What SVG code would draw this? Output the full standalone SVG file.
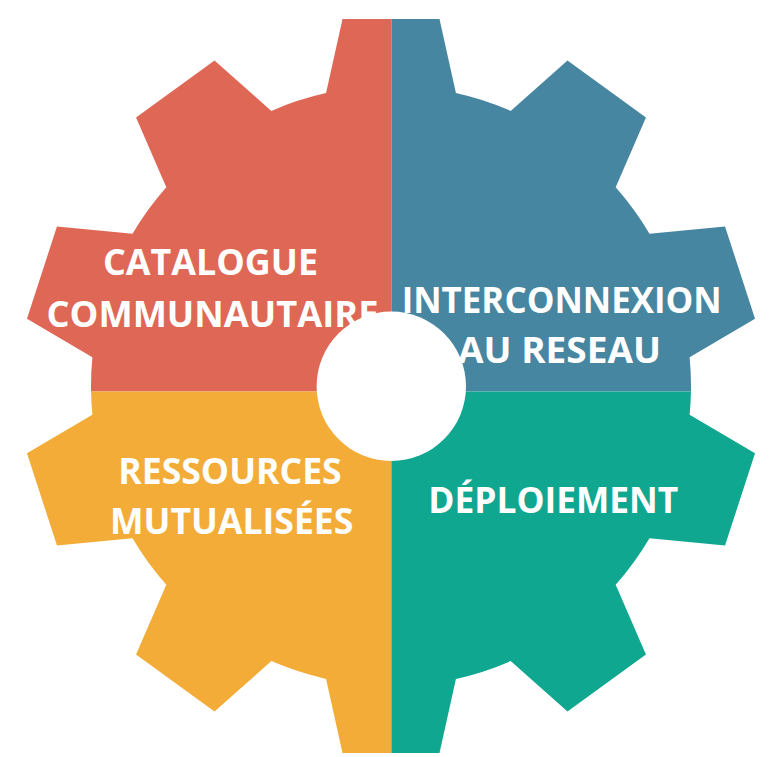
<svg xmlns="http://www.w3.org/2000/svg" xmlns:xlink="http://www.w3.org/1999/xlink" width="769" height="757" viewBox="0 0 769 757">
  <style>
    .lbl { font-family: "Open Sans", "Liberation Sans", sans-serif; font-weight: 700; font-size: 36px; fill: #FFFFFF; text-anchor: middle; }
  </style>
  <defs>
    <path id="gear" d="M326.07,93.11 L342.5,19 L439.5,19 L455.93,93.11 A300,300 0 0 1 510.63,110.88 L567.49,60.59 L645.95,117.6 L615.69,187.21 A300,300 0 0 1 649.49,233.74 L725.03,226.44 L755.03,318.71 L689.62,357.25 A300,300 0 0 1 689.62,414.75 L755.03,453.29 L725.03,545.56 L649.49,538.26 A300,300 0 0 1 615.69,584.79 L645.95,654.4 L567.49,711.41 L510.63,661.12 A300,300 0 0 1 455.93,678.89 L439.5,753 L342.5,753 L326.07,678.89 A300,300 0 0 1 271.37,661.12 L214.51,711.41 L136.05,654.4 L166.31,584.79 A300,300 0 0 1 132.51,538.26 L56.97,545.56 L26.97,453.29 L92.38,414.75 A300,300 0 0 1 92.38,357.25 L26.97,318.71 L56.97,226.44 L132.51,233.74 A300,300 0 0 1 166.31,187.21 L136.05,117.6 L214.51,60.59 L271.37,110.88 A300,300 0 0 1 326.07,93.11 Z"/>
    <clipPath id="cTL"><rect x="0" y="0" width="391.4" height="391.4"/></clipPath>
    <clipPath id="cTR"><rect x="391.4" y="0" width="377.6" height="391.4"/></clipPath>
    <clipPath id="cBL"><rect x="0" y="391.4" width="391.4" height="365.6"/></clipPath>
    <clipPath id="cBR"><rect x="391.4" y="391.4" width="377.6" height="365.6"/></clipPath>
  </defs>

  <g id="catalogue">
    <use xlink:href="#gear" fill="#DF6756" clip-path="url(#cTL)"/>
    <text class="lbl" x="210.5" y="275" textLength="215" lengthAdjust="spacingAndGlyphs">CATALOGUE</text>
    <text class="lbl" x="212.5" y="327" textLength="332" lengthAdjust="spacingAndGlyphs">COMMUNAUTAIRE</text>
  </g>

  <g id="interconnexion">
    <use xlink:href="#gear" fill="#4686A0" clip-path="url(#cTR)"/>
    <text class="lbl" x="561.7" y="312.5" textLength="320" lengthAdjust="spacingAndGlyphs">INTERCONNEXION</text>
    <text class="lbl" x="559.5" y="363.3" textLength="203" lengthAdjust="spacingAndGlyphs">AU RESEAU</text>
  </g>

  <g id="ressources">
    <use xlink:href="#gear" fill="#F3AC38" clip-path="url(#cBL)"/>
    <text class="lbl" x="230" y="484.3" textLength="223.4" lengthAdjust="spacingAndGlyphs">RESSOURCES</text>
    <text class="lbl" x="231.7" y="534.3" textLength="243.3" lengthAdjust="spacingAndGlyphs">MUTUALISÉES</text>
  </g>

  <g id="deploiement">
    <use xlink:href="#gear" fill="#10A791" clip-path="url(#cBR)"/>
    <text class="lbl" x="553.3" y="513.3" textLength="250" lengthAdjust="spacingAndGlyphs">DÉPLOIEMENT</text>
  </g>

  <g id="hole">
    <circle cx="391.3" cy="386.3" r="74.7" fill="#FFFFFF"/>
  </g>

  <g id="connectors"/>
</svg>
